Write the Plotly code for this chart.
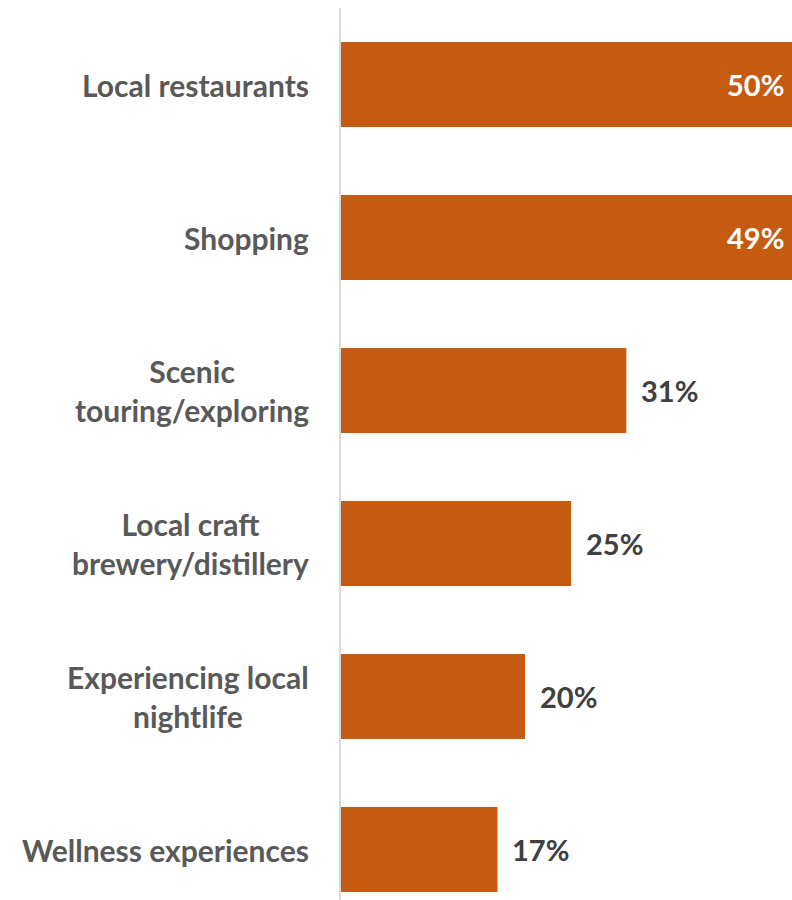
import plotly.graph_objects as go

categories = [
    "Local restaurants",
    "Shopping",
    "Scenic<br>touring/exploring",
    "Local craft<br>brewery/distillery",
    "Experiencing local<br>nightlife",
    "Wellness experiences",
]
values = [50, 49, 31, 25, 20, 17]
value_labels = ["50%", "49%", "31%", "25%", "20%", "17%"]
label_inside = [True, True, False, False, False, False]

BAR = "#C55A11"
CAT_COLOR = "#595959"
VAL_COLOR = "#404040"
FONT = "Lato"
X_MAX = 49.0

fig = go.Figure(
    go.Bar(
        y=categories,
        x=values,
        orientation="h",
        marker=dict(color=BAR, line=dict(width=0)),
        width=0.556,
        hoverinfo="skip",
    )
)

annotations = []
for cat, v, lab, ins in zip(categories, values, value_labels, label_inside):
    if ins:
        annotations.append(dict(
            x=min(v, X_MAX), y=cat, xref="x", yref="y", text=lab, showarrow=False,
            xanchor="right", yanchor="middle", xshift=-6,
            font=dict(family=FONT, size=29, color="white", weight="bold"),
        ))
    else:
        annotations.append(dict(
            x=v, y=cat, xref="x", yref="y", text=lab, showarrow=False,
            xanchor="left", yanchor="middle", xshift=13,
            font=dict(family=FONT, size=29, color=VAL_COLOR, weight="bold"),
        ))
    annotations.append(dict(
        x=0, y=cat, xref="paper", yref="y", text=cat, showarrow=False,
        xanchor="right", yanchor="middle", xshift=-30, align="center",
        font=dict(family=FONT, size=30, color=CAT_COLOR, weight="bold"),
    ))

fig.update_layout(
    width=792,
    height=900,
    margin=dict(l=341, r=0, t=8, b=0),
    paper_bgcolor="white",
    plot_bgcolor="white",
    showlegend=False,
    annotations=annotations,
    xaxis=dict(range=[0, X_MAX], showgrid=False, zeroline=False,
               showticklabels=False, showline=False, fixedrange=True),
    yaxis=dict(type="category", categoryorder="array", categoryarray=categories,
               range=[5.33, -0.5], showgrid=False, zeroline=False,
               showticklabels=False, showline=True, linecolor="#D9D9D9",
               linewidth=2, ticks="", fixedrange=True),
)

fig.write_html(
    "out.html",
    config={"displayModeBar": False},
    default_width="792px",
    default_height="900px",
    post_script="document.body.style.margin='0';document.body.style.overflow='hidden';",
)
